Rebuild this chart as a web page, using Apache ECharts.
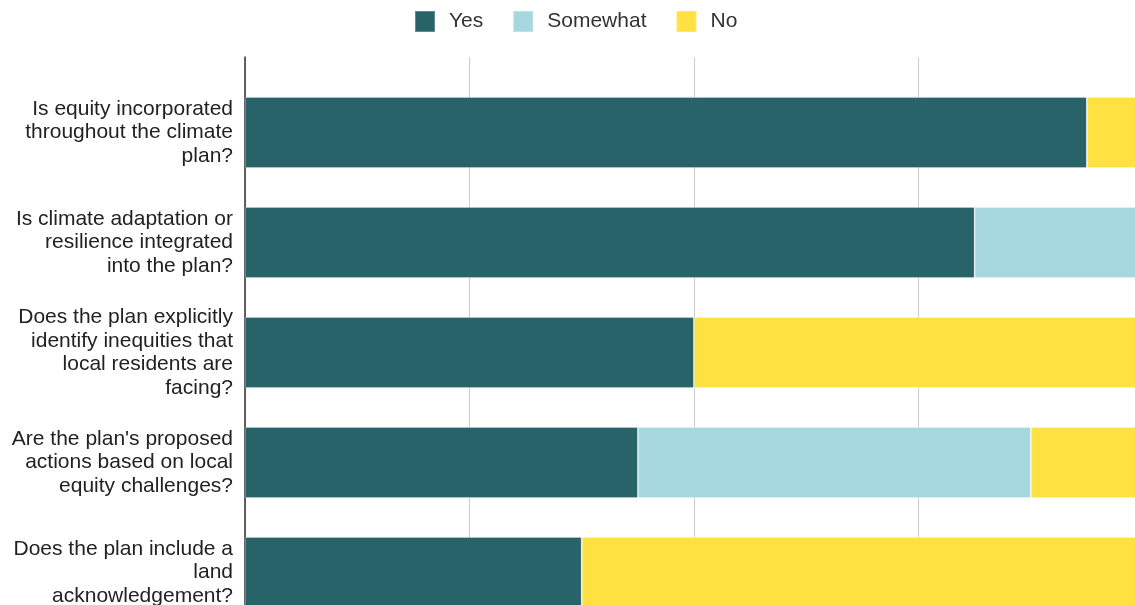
<!DOCTYPE html>
<html>
<head>
<meta charset="utf-8">
<title>Climate plan equity review</title>
<script src="https://cdn.jsdelivr.net/npm/echarts@6/dist/echarts.min.js"></script>
<style>
  html, body { margin: 0; padding: 0; background: #ffffff; overflow: hidden; }
  /* the plot runs past the right and bottom edges of the window */
  #chart { width: 1160px; height: 680px; }
</style>
</head>
<body>
<div id="chart"></div>
<script>
// Questions asked of each climate plan (line breaks as wrapped on the axis)
const questions = [
  'Is equity incorporated\nthroughout the climate\nplan?',
  'Is climate adaptation or\nresilience integrated\ninto the plan?',
  'Does the plan explicitly\nidentify inequities that\nlocal residents are\nfacing?',
  "Are the plan's proposed\nactions based on local\nequity challenges?",
  'Does the plan include a\nland\nacknowledgement?'
];

// Number of plans answering each way (16 plans reviewed)
const yesCounts      = [15, 13, 8, 7, 6];
const somewhatCounts = [0, 3, 0, 7, 0];
const noCounts       = [1, 0, 8, 2, 10];

const totalPlans = 16;
const gridTicks = 4;

const fontFamily = "'Liberation Sans', Arial, sans-serif";
const colors = { yes: '#276369', somewhat: '#a6d7de', no: '#ffe142' };

const chart = echarts.init(document.getElementById('chart'), null, { renderer: 'canvas' });

function barSeries(name, values, color) {
  return {
    name: name,
    type: 'bar',
    stack: 'answers',
    xAxisIndex: 1,
    yAxisIndex: 1,
    barWidth: 71,
    data: values,
    itemStyle: { color: color, borderColor: 'rgba(255,255,255,0.25)', borderWidth: 1 },
    emphasis: { disabled: true }
  };
}

chart.setOption({
  animation: false,
  textStyle: { fontFamily: fontFamily },
  legend: {
    top: 10,
    left: 414,
    padding: 0,
    icon: 'rect',
    itemWidth: 20,
    itemHeight: 21,
    itemGap: 29,
    textStyle: { fontSize: 21, color: '#333', fontFamily: fontFamily, padding: [0, 0, 0, 9] },
    data: ['Yes', 'Somewhat', 'No']
  },
  grid: [
    // frame: vertical axis line and value gridlines
    { left: 245, top: 57, width: 898, height: 610 },
    // bars
    { left: 245, top: 77.5, width: 898, height: 550 }
  ],
  xAxis: [
    {
      gridIndex: 0,
      type: 'value',
      min: 0,
      max: totalPlans,
      interval: gridTicks,
      axisLine: { show: false },
      axisTick: { show: false },
      axisLabel: { show: false },
      splitLine: { show: true, lineStyle: { color: '#cccccc', width: 1 } }
    },
    {
      gridIndex: 1,
      type: 'value',
      min: 0,
      max: totalPlans,
      show: false
    }
  ],
  yAxis: [
    {
      gridIndex: 0,
      type: 'value',
      axisLine: { show: true, lineStyle: { color: '#333333', width: 1.5 } },
      axisTick: { show: false },
      axisLabel: { show: false },
      splitLine: { show: false }
    },
    {
      gridIndex: 1,
      type: 'category',
      inverse: true,
      data: questions,
      axisLine: { show: false },
      axisTick: { show: false },
      splitLine: { show: false },
      axisLabel: {
        margin: 12,
        fontSize: 21,
        lineHeight: 23.5,
        color: '#222222',
        fontFamily: fontFamily,
        align: 'right'
      }
    }
  ],
  series: [
    barSeries('Yes', yesCounts, colors.yes),
    barSeries('Somewhat', somewhatCounts, colors.somewhat),
    barSeries('No', noCounts, colors.no)
  ]
});
</script>
</body>
</html>
